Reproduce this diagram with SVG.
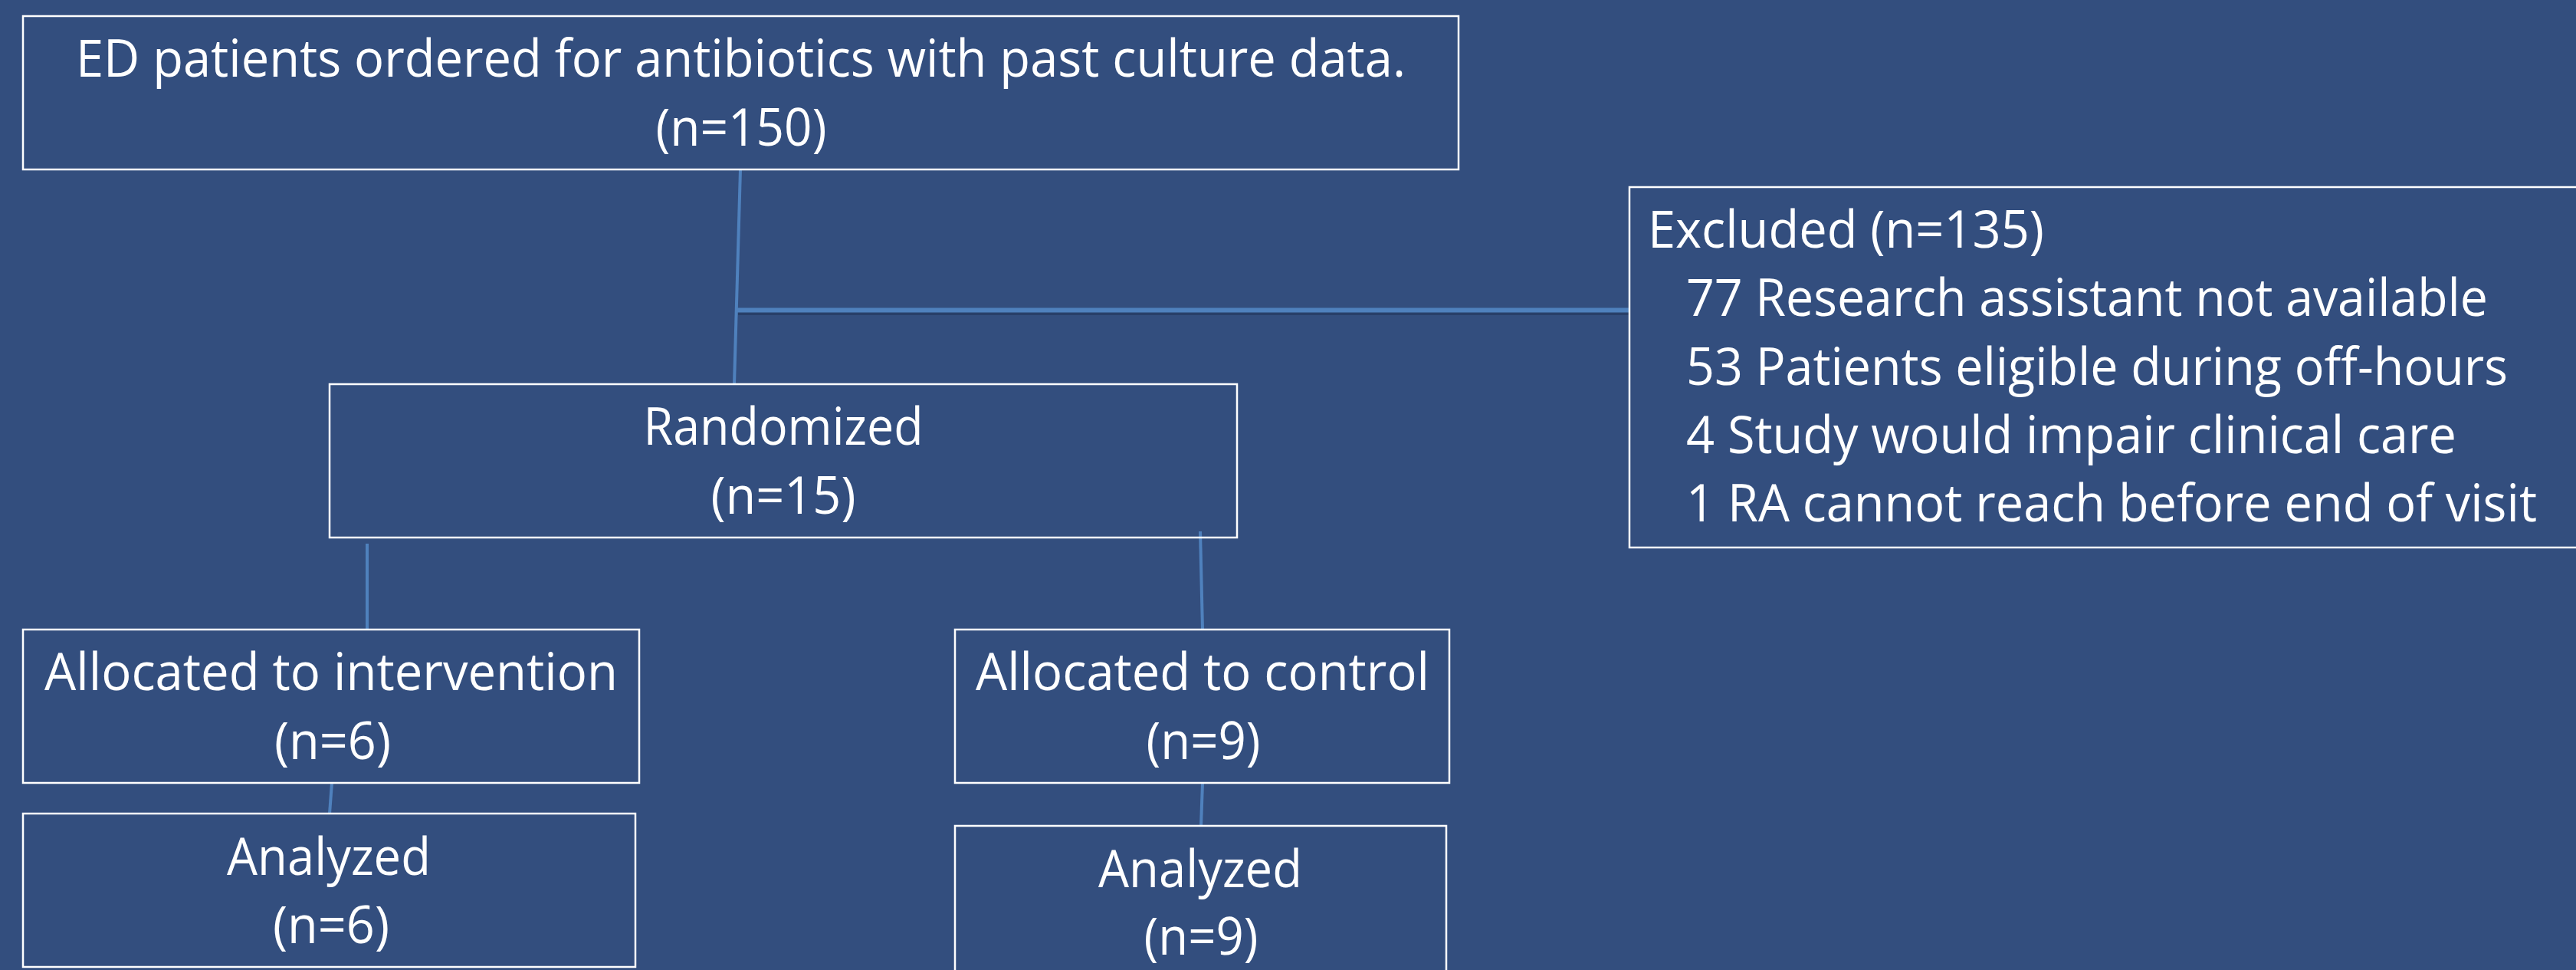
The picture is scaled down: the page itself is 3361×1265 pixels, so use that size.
<svg xmlns="http://www.w3.org/2000/svg" width="3361" height="1265" viewBox="0 0 3361 1265">
<style>
.box{fill:none;stroke:#ffffff;stroke-width:2.5}
.t{font-family:"Open Sans","Liberation Sans",sans-serif;font-size:68px;fill:#ffffff}
.c{text-anchor:middle}
.conn{stroke:#4f81bd;stroke-width:4;fill:none}
.main{stroke:#4f81bd;stroke-width:6;fill:none}
.shadow{stroke:#1f3358;stroke-opacity:0.55;stroke-width:4;fill:none}
</style>
<rect width="3361" height="1265" fill="#334e7e"/>
<g id="connectors">
<line class="conn" x1="966" y1="221" x2="958" y2="501"/>
<line class="shadow" x1="963" y1="409" x2="2126" y2="409"/>
<line class="main" x1="960" y1="404.5" x2="2126" y2="404.5"/>
<line class="conn" x1="479" y1="709" x2="479" y2="821"/>
<line class="conn" x1="1566" y1="693" x2="1569" y2="821"/>
<line class="conn" x1="433" y1="1021" x2="430" y2="1061"/>
<line class="conn" x1="1569" y1="1021" x2="1567" y2="1077"/>
</g>
<g id="n-eligible">
<rect class="box" x="30" y="21" width="1873" height="200"/>
<text class="t c" x="966.5" y="100" textLength="1735" lengthAdjust="spacingAndGlyphs">ED patients ordered for antibiotics with past culture data.</text>
<text class="t c" x="967" y="190" textLength="223" lengthAdjust="spacingAndGlyphs">(n=150)</text>
</g>
<g id="n-excluded">
<rect class="box" x="2126" y="244" width="1260" height="470"/>
<text class="t" x="2150" y="323" textLength="517" lengthAdjust="spacingAndGlyphs">Excluded (n=135)</text>
<text class="t" x="2200" y="412" textLength="1046" lengthAdjust="spacingAndGlyphs">77 Research assistant not available</text>
<text class="t" x="2200" y="502" textLength="1072" lengthAdjust="spacingAndGlyphs">53 Patients eligible during off-hours</text>
<text class="t" x="2200" y="591" textLength="1005" lengthAdjust="spacingAndGlyphs">4 Study would impair clinical care</text>
<text class="t" x="2200" y="680" textLength="1110" lengthAdjust="spacingAndGlyphs">1 RA cannot reach before end of visit</text>
</g>
<g id="n-randomized">
<rect class="box" x="430" y="501" width="1184" height="200"/>
<text class="t c" x="1022" y="580" textLength="365" lengthAdjust="spacingAndGlyphs">Randomized</text>
<text class="t c" x="1022" y="670" textLength="189" lengthAdjust="spacingAndGlyphs">(n=15)</text>
</g>
<g id="n-intervention">
<rect class="box" x="30" y="821" width="804" height="200"/>
<text class="t c" x="432" y="900" textLength="748" lengthAdjust="spacingAndGlyphs">Allocated to intervention</text>
<text class="t c" x="434" y="990" textLength="152" lengthAdjust="spacingAndGlyphs">(n=6)</text>
</g>
<g id="n-control">
<rect class="box" x="1246" y="821" width="645" height="200"/>
<text class="t c" x="1569" y="900" textLength="592" lengthAdjust="spacingAndGlyphs">Allocated to control</text>
<text class="t c" x="1570" y="990" textLength="149" lengthAdjust="spacingAndGlyphs">(n=9)</text>
</g>
<g id="n-analyzed-intervention">
<rect class="box" x="30" y="1061" width="799" height="200"/>
<text class="t c" x="429" y="1141" textLength="266" lengthAdjust="spacingAndGlyphs">Analyzed</text>
<text class="t c" x="432" y="1230" textLength="152" lengthAdjust="spacingAndGlyphs">(n=6)</text>
</g>
<g id="n-analyzed-control">
<rect class="box" x="1246" y="1077" width="641" height="220"/>
<text class="t c" x="1566" y="1157" textLength="266" lengthAdjust="spacingAndGlyphs">Analyzed</text>
<text class="t c" x="1567" y="1245" textLength="149" lengthAdjust="spacingAndGlyphs">(n=9)</text>
</g>
</svg>
